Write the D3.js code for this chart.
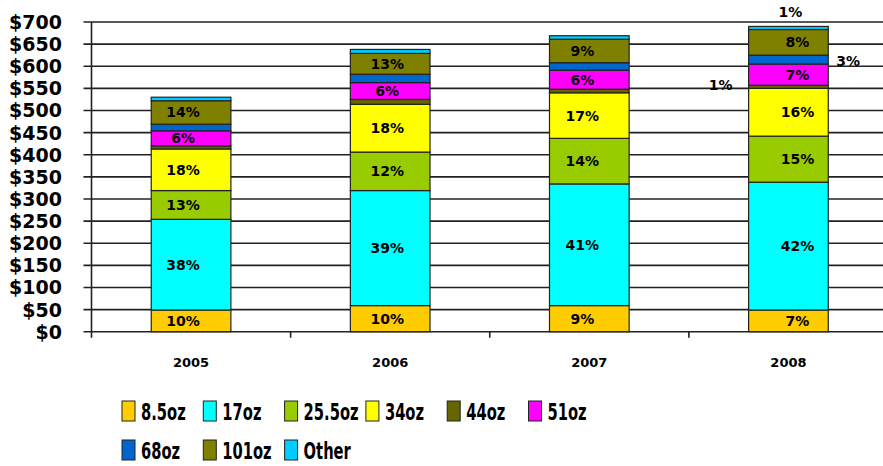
<!DOCTYPE html>
<html>
<head>
<meta charset="utf-8">
<script src="https://cdn.jsdelivr.net/npm/d3@7"></script>
<style>
  body { margin: 0; background: #fff; }
  text { font-family: "Comic Sans MS", "DejaVu Sans", sans-serif; font-weight: bold; fill: #000; }
</style>
</head>
<body>
<svg id="chart" width="883" height="466"></svg>
<script>
// categories
var years = ['2005', '2006', '2007', '2008'];

// sales in $, bottom to top of each stack
var oz8_5 = [49, 59, 59, 49];
var oz17 = [205, 260, 275, 289];
var oz25_5 = [65, 87, 103, 104];
var oz34 = [94, 108, 103, 108];
var oz44 = [7, 11, 8, 7];
var oz51 = [34, 38, 43, 48];
var oz68 = [15, 19, 17, 20];
var oz101 = [53, 47, 53, 58];
var other = [8, 9, 8, 7];

// share labels as printed on the chart (null = no label)
var pct8_5 = ['10%', '10%', '9%', '7%'];
var pct17 = ['38%', '39%', '41%', '42%'];
var pct25_5 = ['13%', '12%', '14%', '15%'];
var pct34 = ['18%', '18%', '17%', '16%'];
var pct44 = [null, null, null, '1%'];
var pct51 = ['6%', '6%', '6%', '7%'];
var pct68 = [null, null, null, '3%'];
var pct101 = ['14%', '13%', '9%', '8%'];
var pctOther = [null, null, null, '1%'];

var yTicks = [0, 50, 100, 150, 200, 250, 300, 350, 400, 450, 500, 550, 600, 650, 700];

var series = [
    {name: '8.5oz', values: oz8_5, labels: pct8_5, color: '#FFCC00'},
    {name: '17oz', values: oz17, labels: pct17, color: '#00FFFF'},
    {name: '25.5oz', values: oz25_5, labels: pct25_5, color: '#99CC00'},
    {name: '34oz', values: oz34, labels: pct34, color: '#FFFF00'},
    {name: '44oz', values: oz44, labels: pct44, color: '#666600', side: 'left'},
    {name: '51oz', values: oz51, labels: pct51, color: '#FF00FF'},
    {name: '68oz', values: oz68, labels: pct68, color: '#0066CC', side: 'right'},
    {name: '101oz', values: oz101, labels: pct101, color: '#808000'},
    {name: 'Other', values: other, labels: pctOther, color: '#00CCFF', side: 'top'}
];

// label nudges per year, as placed in the original
var labelDx = [-8, -3, -7, 9];

var svg = d3.select('#chart');
var plotLeft = 91.5, plotRight = 888, plotTop = 22, plotBottom = 331.7;

var x = d3.scaleBand().domain(years).range([plotLeft, plotRight]);
var y = d3.scaleLinear().domain([0, 700]).range([plotBottom, plotTop]);
var barW = x.bandwidth() * 0.4;

// gridlines
svg.append('g').selectAll('line')
    .data(yTicks)
    .enter().append('line')
    .attr('x1', plotLeft - 8).attr('x2', plotRight)
    .attr('y1', function(d) { return y(d); })
    .attr('y2', function(d) { return y(d); })
    .attr('stroke', '#222').attr('stroke-width', 1.6);

// y tick labels
svg.append('g').selectAll('text')
    .data(yTicks)
    .enter().append('text')
    .attr('x', 62)
    .attr('y', function(d) { return y(d) + 7; })
    .attr('text-anchor', 'end')
    .style('font-size', '19px')
    .text(function(d) { return '$' + d; });

// left axis + category ticks
svg.append('line')
    .attr('x1', plotLeft).attr('x2', plotLeft)
    .attr('y1', plotTop).attr('y2', plotBottom + 6)
    .attr('stroke', '#222').attr('stroke-width', 1.6);
svg.append('g').selectAll('line')
    .data(years.slice(1))
    .enter().append('line')
    .attr('x1', function(d) { return x(d); })
    .attr('x2', function(d) { return x(d); })
    .attr('y1', plotBottom).attr('y2', plotBottom + 6)
    .attr('stroke', '#222').attr('stroke-width', 1.6);

// x labels
svg.append('g').selectAll('text')
    .data(years)
    .enter().append('text')
    .attr('x', function(d) { return x(d) + x.bandwidth() / 2; })
    .attr('y', 367)
    .attr('text-anchor', 'middle')
    .style('font-size', '13px')
    .text(function(d) { return d; });

// stack
var rows = years.map(function(yr, i) {
    var r = {year: yr};
    series.forEach(function(s) { r[s.name] = s.values[i]; });
    return r;
});
var stacked = d3.stack().keys(series.map(function(s) { return s.name; }))(rows);

var layers = svg.append('g').selectAll('g.layer')
    .data(stacked)
    .enter().append('g')
    .attr('class', 'layer')
    .attr('fill', function(d, i) { return series[i].color; });

layers.selectAll('rect')
    .data(function(d) { return d; })
    .enter().append('rect')
    .attr('x', function(d) { return x(d.data.year) + (x.bandwidth() - barW) / 2; })
    .attr('width', barW)
    .attr('y', function(d) { return y(d[1]); })
    .attr('height', function(d) { return y(d[0]) - y(d[1]); })
    .attr('stroke', '#222').attr('stroke-width', 1.2);

// percent labels
var labelData = [];
stacked.forEach(function(layer, si) {
    var s = series[si];
    layer.forEach(function(d, i) {
        var txt = s.labels[i];
        if(!txt) return;
        var cx = x(d.data.year) + x.bandwidth() / 2;
        var cy = (y(d[0]) + y(d[1])) / 2;
        var px = cx + labelDx[i], py = cy + 5, anchor = 'middle';
        if(s.side === 'left') { px = cx - barW / 2 - 16; py = cy + 3; anchor = 'end'; }
        if(s.side === 'right') { px = cx + barW / 2 + 8; py = cy + 6; anchor = 'start'; }
        if(s.side === 'top') { px = cx + 2; py = y(d[1]) - 9; }
        labelData.push({x: px, y: py, t: txt, a: anchor});
    });
});
svg.append('g').selectAll('text')
    .data(labelData)
    .enter().append('text')
    .attr('x', function(d) { return d.x; })
    .attr('y', function(d) { return d.y; })
    .attr('text-anchor', function(d) { return d.a; })
    .style('font-size', '14px')
    .text(function(d) { return d.t; });

// legend
var legend = svg.append('g').selectAll('g')
    .data(series)
    .enter().append('g')
    .attr('transform', function(d, i) {
        var col = i % 6, row = Math.floor(i / 6);
        return 'translate(' + (122 + col * 81.3) + ',' + (401 + row * 39) + ')';
    });
legend.append('rect')
    .attr('width', 13).attr('height', 20)
    .attr('fill', function(d) { return d.color; })
    .attr('stroke', '#222').attr('stroke-width', 1);
legend.append('text')
    .attr('transform', 'translate(19,19) scale(0.64,1)')
    .style('font-size', '23px')
    .text(function(d) { return d.name; });
</script>
</body>
</html>
